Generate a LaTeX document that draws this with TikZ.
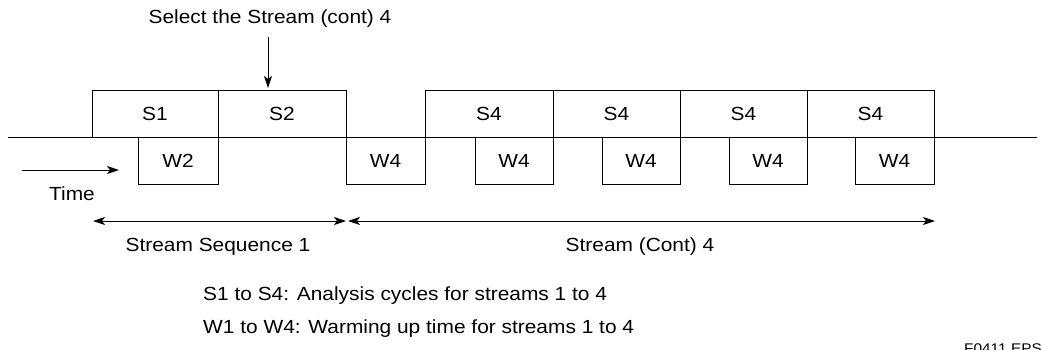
\documentclass[tikz,border=0pt]{standalone}
\usepackage{fontspec}
\setmainfont{Liberation Sans}[FakeStretch=1.1]
\usetikzlibrary{arrows.meta}
\begin{document}
\begin{tikzpicture}[x=1pt,y=-1pt,
  every node/.style={font=\fontsize{19}{23}\selectfont, inner sep=0pt},
  sbox/.style={draw, line width=1pt, minimum height=47pt},
  wbox/.style={draw, line width=1pt, minimum height=47pt},
  ln/.style={line width=1pt},
  arr/.style={line width=1pt, -{Stealth[length=12pt,width=8pt,inset=3pt]}},
  darr/.style={line width=1pt, {Stealth[length=12pt,width=8pt,inset=3pt]}-{Stealth[length=12pt,width=8pt,inset=3pt]}}]
\useasboundingbox (0,0) rectangle (1042,349);
% time base line
\coordinate (L) at (8,137);
\coordinate (R) at (1037,137);
\draw[ln] (L) -- (R);
% analysis boxes
\node[sbox, minimum width=126pt] (s1) at (155,113.5) {S1};
\node[sbox, minimum width=128pt] (s2) at (282,113.5) {S2};
\node[sbox, minimum width=128pt] (s4a) at (489,113.5) {S4};
\node[sbox, minimum width=127pt] (s4b) at (616.5,113.5) {S4};
\node[sbox, minimum width=127pt] (s4c) at (743.5,113.5) {S4};
\node[sbox, minimum width=127pt] (s4d) at (870.5,113.5) {S4};
% warming boxes
\node[wbox, minimum width=80pt] (w2) at (178,160.5) {W2};
\node[wbox, minimum width=79pt] (w4a) at (385.5,160.5) {W4};
\node[wbox, minimum width=78pt] (w4b) at (514,160.5) {W4};
\node[wbox, minimum width=78pt] (w4c) at (641,160.5) {W4};
\node[wbox, minimum width=78pt] (w4d) at (768,160.5) {W4};
\node[wbox, minimum width=79pt] (w4e) at (894.5,160.5) {W4};
% select
\node (sel) at (270,19) {Select the Stream (cont) 4};
\coordinate (selA) at (268,37);
\coordinate (selB) at (268,88);
\draw[arr] (selA) -- (selB);
% time arrow
\coordinate (t1) at (22,170);
\coordinate (t2) at (119,170);
\draw[arr] (t1) -- (t2);
\node (time) at (72,194) {Time};
% ranges
\coordinate (d1) at (93,221);
\coordinate (d2) at (346,221);
\coordinate (d3) at (348,221);
\coordinate (d4) at (935,221);
\draw[darr] (d1) -- (d2);
\draw[darr] (d3) -- (d4);
\node (seq1) at (218,247) {Stream Sequence 1};
\node (cont4) at (640,247) {Stream (Cont) 4};
% legend
\node[anchor=west] (leg1) at (203,296) {S1 to S4: Analysis cycles for streams 1 to 4};
\node[anchor=west] (leg2) at (203,329) {W1 to W4: Warming up time for streams 1 to 4};
\node[anchor=north, font=\fontsize{14}{16}\selectfont] (fig) at (1003,344) {F0411.EPS};
\end{tikzpicture}
\end{document}
